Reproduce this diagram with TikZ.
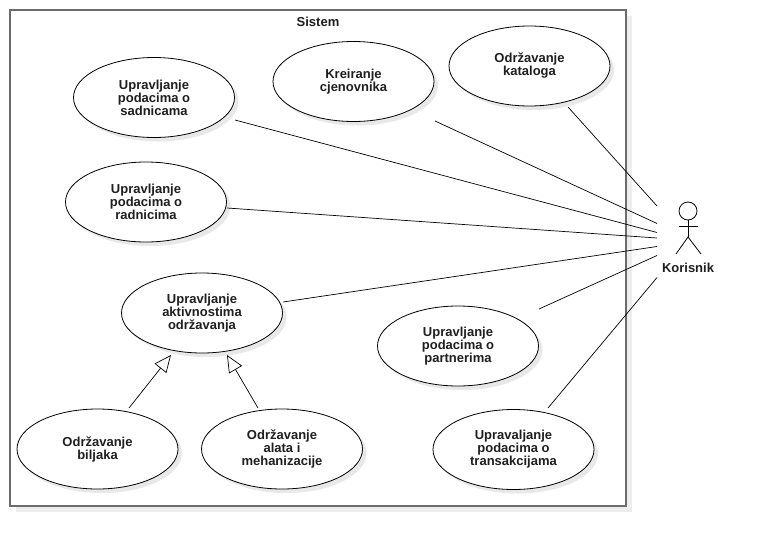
\documentclass[tikz,border=0pt]{standalone}
\usepackage{fontspec}
\setmainfont{Liberation Sans}
\usetikzlibrary{shapes.geometric,arrows.meta,shadows}
\begin{document}
\begin{tikzpicture}[x=1pt,y=-1pt,
  txt/.style={font=\bfseries\fontsize{13}{13}\selectfont, text=black!88},
  uc/.style={ellipse, draw=black, line width=0.8pt, fill=white,
    minimum width=161pt, minimum height=80pt, inner sep=0pt, align=center, txt,
    drop shadow={shadow xshift=4pt, shadow yshift=-4pt, fill=black!9, opacity=1}},
  link/.style={draw=black, line width=0.7pt},
  gen/.style={link, -{Triangle[open, length=17pt, width=15pt, fill=white]}},
  limb/.style={draw=black, line width=0.8pt}
]
\useasboundingbox (0,0) rectangle (759,546);
% system boundary
\node[draw=black!58, line width=1.6pt, fill=white, minimum width=616pt, minimum height=496pt,
  inner sep=0pt, drop shadow={shadow xshift=6pt, shadow yshift=-6pt, fill=black!7, opacity=1}]
  (sys) at (318,258) {};
\node[txt] (title) at (318,22) {Sistem};

% use cases
\node[uc] (sad) at (154,97.5) {Upravljanje\\podacima o\\sadnicama};
\node[uc] (cje) at (353.5,81.5) {Kreiranje\\cjenovnika};
\node[uc] (kat) at (529.5,66) {Održavanje\\kataloga};
\node[uc] (rad) at (146,202) {Upravljanje\\podacima o\\radnicima};
\node[uc] (akt) at (202,313) {Upravljanje\\aktivnostima\\održavanja};
\node[uc] (bil) at (97.5,449) {Održavanje\\biljaka};
\node[uc] (ala) at (282,449) {Održavanje\\alata i\\mehanizacije};
\node[uc] (par) at (458,346) {Upravljanje\\podacima o\\partnerima};
\node[uc] (tra) at (513.5,449.5) {Upravaljanje\\podacima o\\transakcijama};

% actor
\node[circle, draw=black, line width=0.8pt, fill=white, minimum size=18pt, inner sep=0pt] (head) at (688,211) {};
\coordinate (hip) at (688,237);
\coordinate (armL) at (679,226);
\coordinate (armR) at (698,226);
\coordinate (footL) at (676,254);
\coordinate (footR) at (701,254);
\draw[limb] (head.south) -- (hip);
\draw[limb] (armL) -- (armR);
\draw[limb] (footL) -- (hip) -- (footR);
\node[txt] (kor) at (688,268) {Korisnik};

% connector end points
\coordinate (katS) at (568,107);
\coordinate (cjeS) at (435,121);
\coordinate (sadS) at (235,120);
\coordinate (radS) at (227,208);
\coordinate (aktS) at (283,302);
\coordinate (parS) at (539,309);
\coordinate (traS) at (548,408);
\coordinate (a1) at (657,206);
\coordinate (a2) at (657,223.5);
\coordinate (a3) at (657,232.5);
\coordinate (a4) at (657,238);
\coordinate (a5) at (657,246.5);
\coordinate (a6) at (657,255.5);
\coordinate (a7) at (657,277.5);
\draw[link] (katS) -- (a1);
\draw[link] (cjeS) -- (a2);
\draw[link] (sadS) -- (a3);
\draw[link] (radS) -- (a4);
\draw[link] (aktS) -- (a5);
\draw[link] (parS) -- (a6);
\draw[link] (traS) -- (a7);

% generalizations
\coordinate (bilT) at (129,408);
\coordinate (aktL) at (171,355);
\coordinate (alaT) at (258,408);
\coordinate (aktR) at (227,355);
\draw[gen] (bilT) -- (aktL);
\draw[gen] (alaT) -- (aktR);
\end{tikzpicture}
\end{document}
